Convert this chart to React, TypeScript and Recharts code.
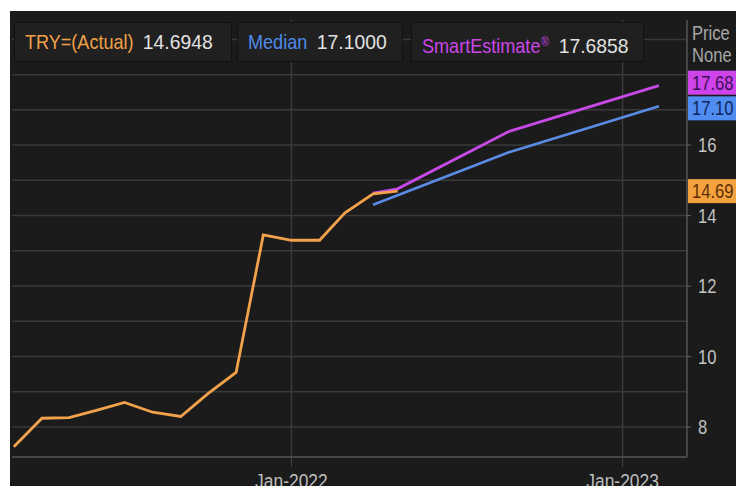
import React from "react";
import {
  LineChart,
  Line,
  XAxis,
  YAxis,
  CartesianGrid,
  ReferenceLine,
  ReferenceArea,
} from "recharts";

const actualDates = [
  "2021-03-01", "2021-04-01", "2021-05-01", "2021-06-01", "2021-07-01",
  "2021-08-01", "2021-09-01", "2021-10-01", "2021-11-01", "2021-12-01",
  "2022-01-01", "2022-02-01", "2022-03-01", "2022-04-01", "2022-04-28",
];
const actualValues = [
  7.44, 8.25, 8.27, 8.48, 8.7, 8.42, 8.3, 8.95, 9.55, 13.45, 13.3, 13.3, 14.08,
  14.62, 14.6948,
];

const medianDates = ["2022-04-01", "2022-08-28", "2023-02-10"];
const medianValues = [14.31, 15.79, 17.1];

const smartDates = ["2022-04-01", "2022-04-28", "2022-08-28", "2023-02-10"];
const smartValues = [14.64, 14.76, 16.38, 17.6858];

const xDomainDates = ["2021-02-27", "2023-03-13"];
const xTickDates = ["2022-01-01", "2023-01-01"];
const xTickLabels = ["Jan-2022", "Jan-2023"];
const yTicks = [8, 10, 12, 14, 16];
const yGrid = [8, 9, 10, 11, 12, 13, 14, 15, 16, 17, 18, 19];
const yDomain = [7.15, 19.55];

const legendItems = [
  { name: "TRY=(Actual)", sup: "", value: "14.6948", color: "#f0a048", left: 14, width: 218 },
  { name: "Median", sup: "", value: "17.1000", color: "#4f8ae8", left: 237, width: 166 },
  { name: "SmartEstimate", sup: "®", value: "17.6858", color: "#cc46e8", left: 411, width: 233 },
];

const lastLabels = [
  { value: 17.6858, text: "17.68", bg: "#cf44ea", fg: "#3a0f55", shift: -3 },
  { value: 17.1, text: "17.10", bg: "#4f8df2", fg: "#10265a", shift: 2 },
  { value: 14.6948, text: "14.69", bg: "#f5a23e", fg: "#5a2f05", shift: 0 },
];

const ts = (d: string) => new Date(d + "T00:00:00Z").getTime();
const toSeries = (dates: string[], vals: number[]) =>
  dates.map((d, i) => ({ t: ts(d), v: vals[i] }));

const actualData = toSeries(actualDates, actualValues);
const medianData = toSeries(medianDates, medianValues);
const smartData = toSeries(smartDates, smartValues);
const xTicks = xTickDates.map(ts);

const FONT = "'Liberation Sans', Arial, sans-serif";
const SX = 0.83;

const makeLabel = (item: typeof lastLabels[number]) => (props: any) => {
  const vb = props.viewBox || {};
  const x = (vb.x || 0) + (vb.width || 0) + 1;
  const y = (vb.y || 0) + item.shift;
  return (
    <g>
      <rect x={x} y={y - 12} width={60} height={24} fill={item.bg} />
      <text
        transform={`translate(${x + 4},${y + 7}) scale(${SX},1)`}
        fill={item.fg}
        fontSize={20}
        fontFamily={FONT}
      >
        {item.text}
      </text>
    </g>
  );
};

const XTick = (props: any) => {
  const { x, y, payload } = props;
  const label = xTickLabels[xTicks.indexOf(payload.value)] || "";
  return (
    <text
      transform={`translate(${x},${y + 19}) scale(${SX},1)`}
      textAnchor="middle"
      fill="#bdbdbd"
      fontSize={21}
      fontFamily={FONT}
    >
      {label}
    </text>
  );
};

const YTick = (props: any) => {
  const { x, y, payload } = props;
  return (
    <text
      transform={`translate(${x + 5},${y + 7}) scale(${SX},1)`}
      fill="#c4c4c4"
      fontSize={20}
      fontFamily={FONT}
    >
      {payload.value}
    </text>
  );
};

export default function App() {
  return (
    <div
      style={{
        position: "absolute",
        left: 10,
        top: 11,
        width: 726,
        height: 475,
        background: "#1b1b1b",
        overflow: "hidden",
        fontFamily: FONT,
      }}
    >
      <LineChart
        width={726}
        height={475}
        margin={{ top: 9, left: 2, right: 0, bottom: 0 }}
      >
        <CartesianGrid
          stroke="#3a3a3a"
          strokeWidth={1.5}
          horizontalValues={yGrid}
          verticalValues={xTicks}
        />
        <ReferenceArea fill="none" stroke="#4a4a4a" strokeWidth={1.5} ifOverflow="visible" />
        <XAxis
          type="number"
          dataKey="t"
          domain={xDomainDates.map(ts)}
          allowDataOverflow
          ticks={xTicks}
          height={29}
          tickSize={10}
          axisLine={{ stroke: "#555", strokeWidth: 1.5 }}
          tickLine={{ stroke: "#444" }}
          tick={<XTick />}
        />
        <YAxis
          orientation="right"
          type="number"
          domain={yDomain}
          allowDataOverflow
          ticks={yTicks}
          width={49}
          tickSize={4}
          axisLine={{ stroke: "#555", strokeWidth: 1.5 }}
          tickLine={{ stroke: "#666" }}
          tick={<YTick />}
        />
        <Line
          data={smartData}
          dataKey="v"
          stroke="#c84ae6"
          strokeWidth={2.8}
          dot={false}
          isAnimationActive={false}
        />
        <Line
          data={medianData}
          dataKey="v"
          stroke="#5a8ce6"
          strokeWidth={2.6}
          dot={false}
          isAnimationActive={false}
        />
        <Line
          data={actualData}
          dataKey="v"
          stroke="#f3a24c"
          strokeWidth={2.8}
          dot={false}
          isAnimationActive={false}
        />
        {lastLabels.map((item) => (
          <ReferenceLine
            key={item.text}
            y={item.value}
            stroke="none"
            ifOverflow="visible"
            label={makeLabel(item)}
          />
        ))}
      </LineChart>
      {legendItems.map((it) => (
        <div
          key={it.name}
          style={{
            position: "absolute",
            left: it.left - 10,
            top: 11,
            width: it.width,
            height: 40,
            boxSizing: "border-box",
            background: "#202020",
            border: "1px solid #111",
            paddingLeft: 10,
            whiteSpace: "nowrap",
            overflow: "hidden",
          }}
        >
          <div
            style={{
              position: "absolute",
              left: 10,
              top: 8,
              fontSize: 21,
              lineHeight: "22px",
              color: it.color,
              transform: "scaleX(0.86)",
              transformOrigin: "left center",
            }}
          >
            {it.name}
            {it.sup ? (
              <span style={{ fontSize: 12, verticalAlign: "7px", marginLeft: 1 }}>{it.sup}</span>
            ) : null}
            <span
              style={{
                display: "inline-block",
                marginLeft: 11,
                color: "#e2e2e2",
                transform: "scaleX(1.07)",
                transformOrigin: "left center",
              }}
            >
              {it.value}
            </span>
          </div>
        </div>
      ))}
      <div
        style={{
          position: "absolute",
          left: 682,
          top: 11,
          color: "#a8a8a8",
          fontSize: 20,
          lineHeight: "22px",
          transform: `scaleX(${SX})`,
          transformOrigin: "left top",
        }}
      >
        Price
        <br />
        None
      </div>
    </div>
  );
}
